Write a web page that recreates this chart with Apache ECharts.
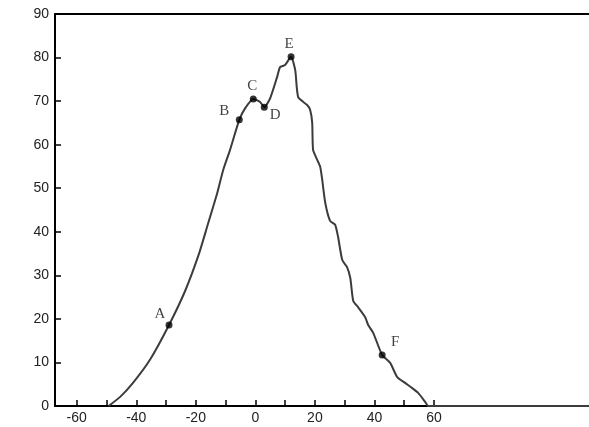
<!DOCTYPE html>
<html><head><meta charset="utf-8">
<script src="https://cdn.jsdelivr.net/npm/echarts@6/dist/echarts.min.js"></script>
<style>html,body{margin:0;padding:0;background:#fff;overflow:hidden}#c{width:589px;height:427px}</style>
</head><body><div id="c"></div>
<script>
// curve
const curveX = [-49.3,-45.4,-41.1,-35.4,-29.0,-23.6,-19.0,-16.0,-12.8,-10.8,-8.5,-5.4,-3.4,-0.7,1.6,3.0,5.0,7.3,8.3,10.0,12.0,13.4,14.4,17.4,18.4,19.1,19.4,20.8,21.8,22.4,23.5,25.1,26.8,27.8,29.2,30.8,31.9,32.9,34.5,36.9,37.9,39.6,42.6,45.3,47.6,50.3,52.7,54.7,57.1,58.1,80,113];
const curveY = [0,2.1,5.3,10.6,18.6,26.4,34.8,41.6,48.9,54.2,58.8,65.7,68.4,70.5,69.8,68.6,70.7,75.5,77.8,78.3,80.2,77.1,70.9,69.1,68.0,65.0,58.8,56.5,54.9,52.3,46.6,42.5,41.6,38.8,33.5,31.9,29.4,24.1,22.7,20.4,18.6,16.8,11.7,9.9,6.7,5.3,4.1,3.0,0.9,0,0,0];
const pointNames = ['A','B','C','D','E','F'];
const pointX = [-29.0,-5.4,-0.7,3.0,12.0,42.6];
const pointY = [18.6,65.7,70.5,68.6,80.2,11.7];
const xTickValues = [-60,-50,-40,-30,-20,-10,0,10,20,30,40,50,60];
const xLabelValues = [-60,-40,-20,0,20,40,60];
const yMin = 0, yMax = 90, yStep = 10;

const labelOffsets = {A:[-9,-11],B:[-15,-9],C:[-1,-13],D:[11,8],E:[-2,-13],F:[13,-13]};

const chart = echarts.init(document.getElementById('c'), null, {renderer:'canvas'});
const lineData = curveX.map((x,i)=>[x,curveY[i]]);
const ptData = pointNames.map((n,i)=>({
  name:n, value:[pointX[i],pointY[i]],
  label:{show:true, formatter:n, position:'inside', offset:labelOffsets[n]}
}));
chart.setOption({
  animation:false,
  backgroundColor:'#fff',
  grid:{left:55, top:14, width:540, height:392, show:true, borderColor:'#000', borderWidth:2,
        containLabel:false, outerBoundsMode:'none'},
  xAxis:{
    type:'value', min:-67.3, max:114.1,
    axisLine:{show:true, onZero:false, lineStyle:{color:'#000', width:2}},
    axisTick:{show:true, inside:true, length:6, customValues:xTickValues, lineStyle:{color:'#000', width:1.5}},
    axisLabel:{customValues:xLabelValues, color:'#222', fontFamily:'Liberation Sans', fontSize:14, margin:5},
    splitLine:{show:false}
  },
  yAxis:{
    type:'value', min:yMin, max:yMax, interval:yStep,
    axisLine:{show:true, onZero:false, lineStyle:{color:'#000', width:2}},
    axisTick:{show:true, inside:true, length:6, lineStyle:{color:'#000', width:1.5}},
    axisLabel:{color:'#222', fontFamily:'Liberation Sans', fontSize:14, margin:6},
    splitLine:{show:false}
  },
  series:[
    {type:'line', data:lineData, showSymbol:false, smooth:0.2,
     lineStyle:{color:'#3c3c3c', width:2}, z:2},
    {type:'scatter', data:ptData, symbol:'circle', symbolSize:7,
     itemStyle:{color:'#000'},
     label:{color:'#111', fontFamily:'Liberation Serif', fontSize:15}, z:3}
  ]
});
</script></body></html>
